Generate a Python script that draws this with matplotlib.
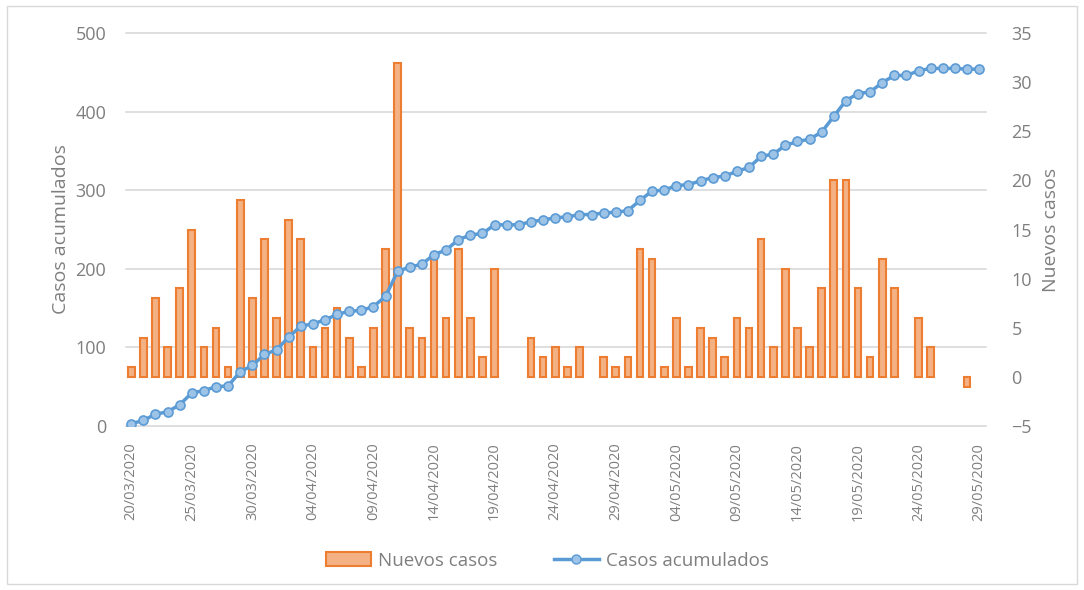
import matplotlib
matplotlib.use("Agg")
import matplotlib.pyplot as plt
import matplotlib.transforms as mtransforms
from matplotlib.patches import Rectangle, Patch
from matplotlib.lines import Line2D
import numpy as np
import pandas as pd

plt.rcParams['font.family'] = ['Open Sans', 'DejaVu Sans']

# data (20/03/2020 .. 29/05/2020)
dates = pd.date_range("2020-03-20", "2020-05-29", freq="D")
nuevos_casos = [1, 4, 8, 3, 9, 15, 3, 5, 1, 18,
                8, 14, 6, 16, 14, 3, 5, 7, 4, 1,
                5, 13, 32, 5, 4, 12, 6, 13, 6, 2,
                11, 0, 0, 4, 2, 3, 1, 3, 0, 2,
                1, 2, 13, 12, 1, 6, 1, 5, 4, 2,
                6, 5, 14, 3, 11, 5, 3, 9, 20, 20,
                9, 2, 12, 9, 0, 6, 3, 0, 0, -1,
                0]
casos_acumulados = [3, 7, 15, 18, 27, 42, 45, 50, 51, 69,
                    77, 91, 97, 113, 127, 130, 135, 142, 146, 147,
                    152, 165, 197, 202, 206, 218, 224, 237, 243, 245,
                    256, 256, 256, 260, 262, 265, 266, 269, 269, 271,
                    272, 274, 287, 299, 300, 306, 307, 312, 316, 318,
                    324, 329, 343, 346, 357, 362, 365, 374, 394, 414,
                    423, 425, 437, 446, 446, 452, 455, 455, 455, 454,
                    454]
left_ticks = [0, 100, 200, 300, 400, 500]
right_ticks = [-5, 0, 5, 10, 15, 20, 25, 30, 35]

x = np.arange(len(dates))
tick_idx = x[::5]
tick_labels = [dates[i].strftime("%d/%m/%Y") for i in tick_idx]

orange_edge = "#ED7D31"
orange_fill = "#F4B183"
blue = "#5B9BD5"
blue_fill = "#9DC3E6"
grey_txt = "#7F7F7F"
grid_col = "#D9D9D9"

fig = plt.figure(figsize=(10.84, 5.9), dpi=100)
axc = fig.add_axes([0.116, 0.278, 0.794, 0.666])
axb = axc.twinx()
axc.set_zorder(axb.get_zorder() + 1)
axc.patch.set_visible(False)

# bars (right axis); days with no new cases get no outline
lws = [0 if v == 0 else 1.5 for v in nuevos_casos]
axb.bar(x, nuevos_casos, width=0.55, color=orange_fill, edgecolor=orange_edge,
        linewidth=lws, zorder=3)
axb.set_ylim(-5, 35)
axb.set_yticks(right_ticks)

# gridlines at left-axis ticks, drawn under the bars
tr = mtransforms.blended_transform_factory(axb.transAxes, axc.transData)
for v in left_ticks:
    axb.plot([0, 1], [v, v], transform=tr, color=grid_col, lw=1.2, zorder=1,
             clip_on=False)

# cumulative line (left axis)
axc.plot(x, casos_acumulados, color=blue, lw=2.5, marker="o", markersize=6.5,
         markerfacecolor=blue_fill, markeredgecolor=blue, markeredgewidth=1.2)
axc.set_ylim(0, 500)
axc.set_yticks(left_ticks)
axc.set_xlim(-0.45, 70.6)
axc.set_xticks(tick_idx)
axc.set_xticklabels(tick_labels, rotation=90, color=grey_txt)

for a in (axc, axb):
    for s in a.spines.values():
        s.set_visible(False)
    a.tick_params(length=0, colors=grey_txt, labelsize=13)
axc.tick_params(axis="y", pad=14)
axb.tick_params(axis="y", pad=18)
axc.tick_params(axis="x", pad=12, labelsize=10.5)

axc.set_ylabel("Casos acumulados", fontsize=14, color=grey_txt, labelpad=4)
axb.set_ylabel("Nuevos casos", fontsize=14, color=grey_txt, labelpad=7)

handles = [Patch(facecolor=orange_fill, edgecolor=orange_edge, linewidth=1.5),
           Line2D([], [], color=blue, lw=2.5, marker="o", markersize=6.5,
                  markerfacecolor=blue_fill, markeredgecolor=blue)]
fig.legend(handles, ["Nuevos casos", "Casos acumulados"], loc="center",
           bbox_to_anchor=(0.505, 0.05), ncol=2, frameon=False, fontsize=13.5,
           labelcolor=grey_txt, columnspacing=3, handlelength=2.4,
           handletextpad=0.4)

fig.patches.append(Rectangle((0.006, 0.01), 0.988, 0.98, transform=fig.transFigure,
                             fill=False, edgecolor=grid_col, lw=1))

fig.savefig("out.png", dpi=100)
